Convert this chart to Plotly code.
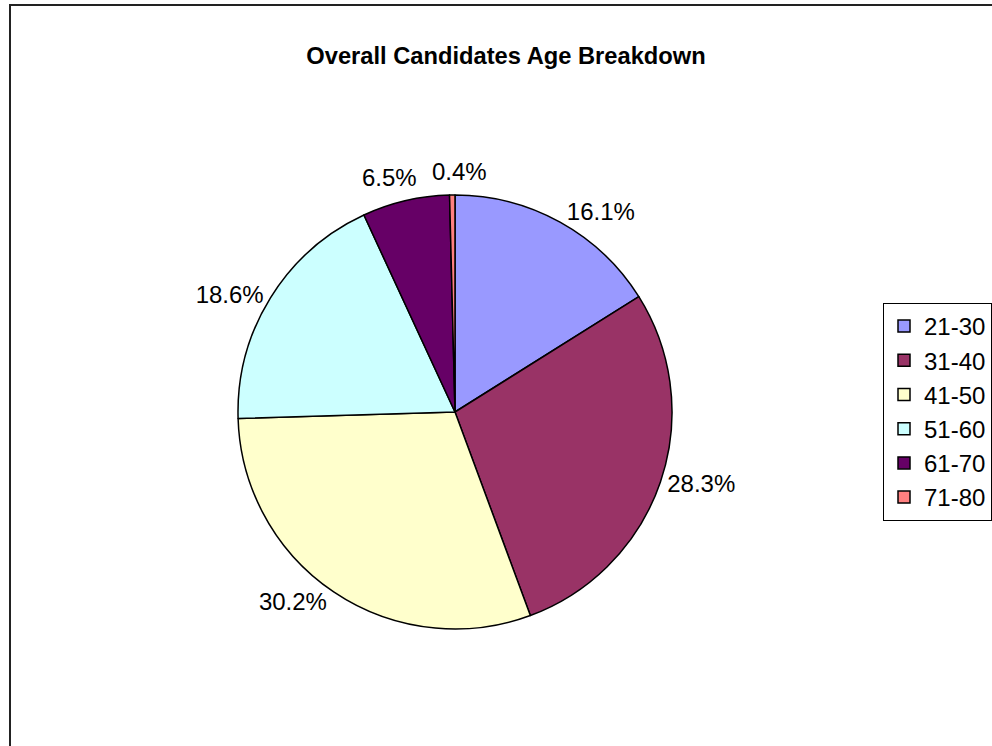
import math
import plotly.graph_objects as go

# age groups and their share of candidates (%)
age_groups = ["21-30", "31-40", "41-50", "51-60", "61-70", "71-80"]
shares = [16.1, 28.3, 30.2, 18.6, 6.5, 0.4]
slice_colors = ["#9999FF", "#993366", "#FFFFCC", "#CCFFFF", "#660066", "#FF8080"]

W, H = 992, 746
FONT = "Arial, Liberation Sans, sans-serif"
FS = 24

# pie box in pixels (centre 455,412, radius ~216)
CX, CY, R = 455, 412, 217
dom = dict(x=[(CX - R) / W, (CX + R) / W], y=[1 - (CY + R) / H, 1 - (CY - R) / H])

# the two thin slices at the top get their labels as annotations on the
# slice's mid angle (plotly would otherwise shove them aside with leader lines)
thin = [4, 5]
total = sum(shares)
label_font = dict(size=FS, color="black", family=FONT)

fig = go.Figure()
fig.add_trace(go.Pie(
    labels=age_groups,
    values=shares,
    sort=False,
    direction="clockwise",
    rotation=0,
    marker=dict(colors=slice_colors, line=dict(color="black", width=1.5)),
    textinfo="percent",
    texttemplate="%{percent:.1%}",
    textposition=["none" if i in thin else "outside" for i in range(len(shares))],
    outsidetextfont=label_font,
    domain=dom,
    hoverinfo="label+percent",
))

# natural spot: just outside the rim, box nudged away from the pie
spots = []
for i in thin:
    mid = (sum(shares[:i]) + shares[i] / 2) / total * 2 * math.pi
    text = f"{shares[i] / total:.1%}"
    w, h = 0.57 * FS * len(text), 1.15 * FS
    px = CX + (R + 10) * math.sin(mid) + w / 2 * math.sin(mid)
    py = CY - (R + 10) * math.cos(mid) - h / 2 * math.cos(mid)
    spots.append([px, py, w, text])

# spread the two labels apart sideways if they would touch
need = (spots[0][2] + spots[1][2]) / 2 + 16
gap = spots[1][0] - spots[0][0]
if gap < need:
    spots[0][0] -= (need - gap) / 2
    spots[1][0] += (need - gap) / 2

annotations = [dict(
    xref="paper", yref="paper",
    x=px / W, y=1 - py / H,
    text=text, showarrow=False,
    xanchor="center", yanchor="middle",
    font=label_font,
) for px, py, w, text in spots]

fig.update_layout(
    width=W, height=H,
    margin=dict(l=0, r=0, t=0, b=0),
    paper_bgcolor="white",
    font=dict(family=FONT, color="black", size=FS),
    title=dict(
        text="<b>Overall Candidates Age Breakdown</b>",
        font=dict(size=23.7, family=FONT, color="black"),
        x=506 / W, xanchor="center",
        y=1 - 56 / H, yanchor="middle",
    ),
    legend=dict(
        x=883 / W, xanchor="left",
        y=1 - 303 / H, yanchor="top",
        bordercolor="black", borderwidth=1,
        bgcolor="white",
        font=dict(size=FS, family=FONT, color="black"),
    ),
    annotations=annotations,
    # chart area frame, running off the right and bottom edges like the original
    shapes=[dict(
        type="rect", xref="paper", yref="paper",
        x0=10 / W, x1=1.02, y0=-0.02, y1=1 - 5 / H,
        line=dict(color="#222222", width=2),
    )],
)

# drop the default body margin so the figure sits at the window's corner
fig.write_html("out.html", config={"displayModeBar": False},
               post_script="document.body.style.margin='0px';")
